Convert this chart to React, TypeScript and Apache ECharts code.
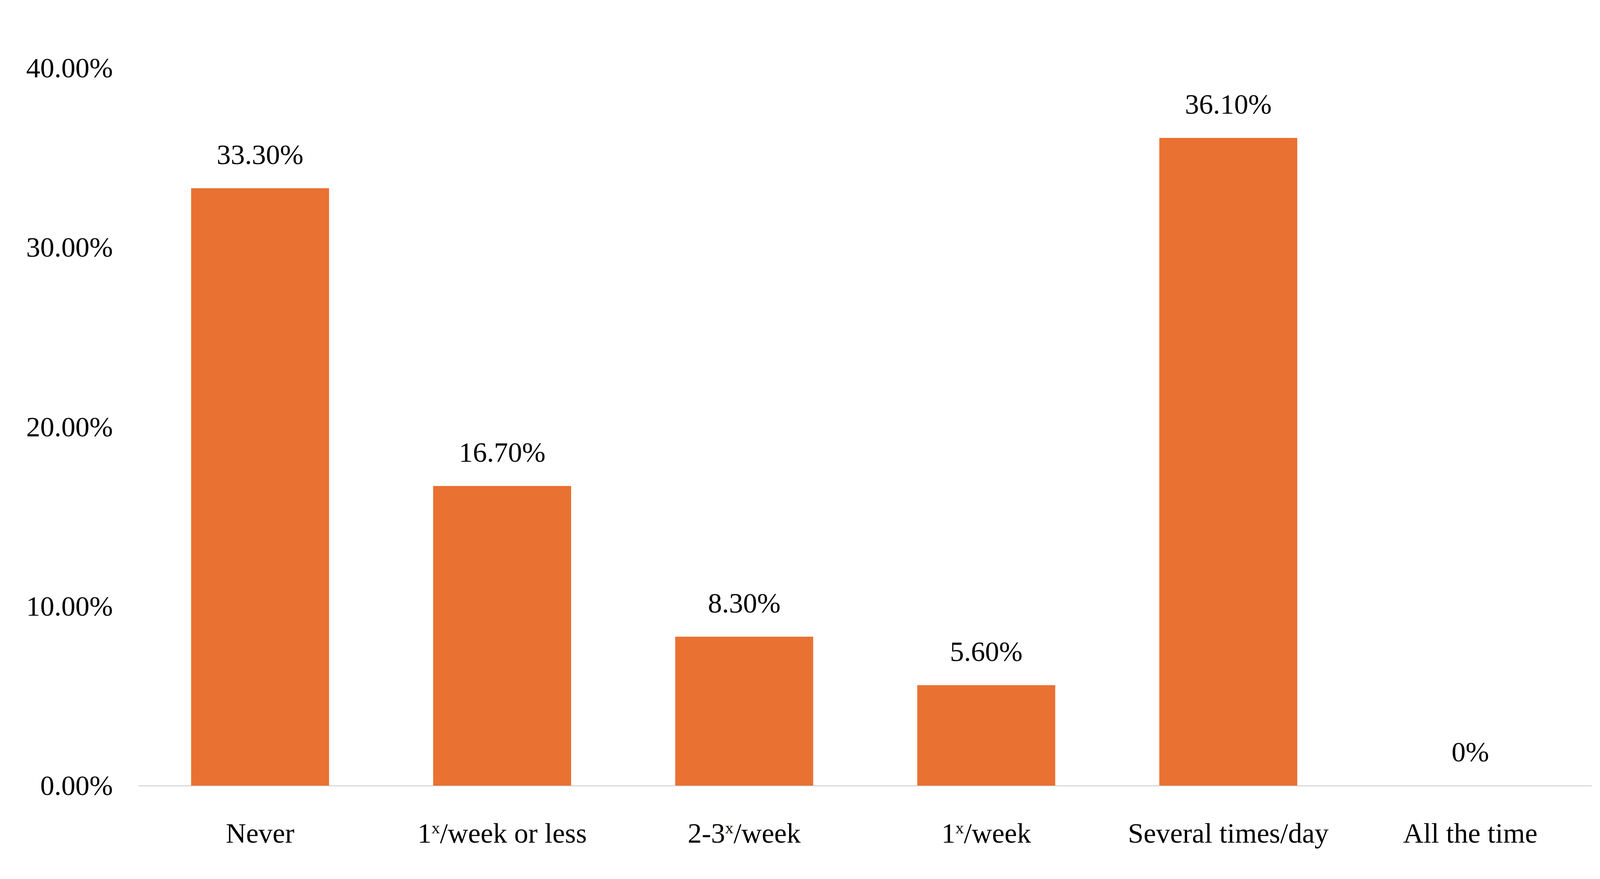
import React, { useEffect, useRef, useState } from "react";
import * as echarts from "echarts";

const categories = [
  "Never",
  "1ˣ/week or less",
  "2-3ˣ/week",
  "1ˣ/week",
  "Several times/day",
  "All the time",
];
const shares = [33.3, 16.7, 8.3, 5.6, 36.1, 0];
const yTicks = [0, 10, 20, 30, 40];

const FONT = "'Liberation Serif', 'Times New Roman', serif";
// size of the reference chart area (window minus the 8px body margin)
const REF_W = 5780;
const REF_H = 2234;

function App() {
  const chartRef = useRef<HTMLDivElement>(null);
  const [size] = useState(() => ({
    w: Math.max(window.innerWidth - 16, 400),
    h: Math.max(window.innerHeight - 16, 300),
  }));

  // eslint-disable-next-line consistent-return
  useEffect(() => {
    if (chartRef.current) {
      const sx = size.w / REF_W;
      const sy = size.h / REF_H;
      const fs = 102 * Math.min(sx, sy);
      const chart = echarts.init(chartRef.current, undefined, {
        renderer: "svg",
      });
      const options: echarts.EChartsOption = {
        animation: false,
        grid: {
          top: 166 * sy,
          right: 20 * sx,
          bottom: 231 * sy,
          left: 493 * sx,
        },
        xAxis: {
          type: "category",
          data: categories,
          axisLine: { lineStyle: { color: "#D9D9D9", width: 3 } },
          axisTick: { show: false },
          axisLabel: {
            interval: 0,
            margin: 122 * sy - fs / 2,
            color: "#000",
            fontFamily: FONT,
            fontSize: fs,
            lineHeight: fs,
            formatter: (v: string) => v.split("ˣ").join("{sup|x}"),
            rich: {
              sup: {
                fontFamily: FONT,
                fontSize: fs * 0.6,
                lineHeight: fs * 0.6,
                color: "#000",
                verticalAlign: "top",
              },
            },
          },
        },
        yAxis: {
          type: "value",
          min: yTicks[0],
          max: yTicks[yTicks.length - 1],
          interval: 10,
          splitLine: { show: false },
          axisLine: { show: false },
          axisTick: { show: false },
          axisLabel: {
            margin: 95 * sx,
            color: "#000",
            fontFamily: FONT,
            fontSize: fs,
            formatter: (v: number) => `${v.toFixed(2)}%`,
          },
        },
        series: [
          {
            type: "bar",
            data: shares,
            barWidth: "57%",
            itemStyle: { color: "#E97132" },
            label: {
              show: true,
              position: "top",
              distance: 86 * sy - fs / 2,
              color: "#000",
              fontFamily: FONT,
              fontSize: fs,
              formatter: (p: any) =>
                p.value === 0 ? "0%" : `${Number(p.value).toFixed(2)}%`,
            },
          },
        ],
      };
      chart.setOption(options);
      return () => {
        chart.dispose();
      };
    }
  }, [size]);

  return (
    <div ref={chartRef} style={{ width: `${size.w}px`, height: `${size.h}px` }} />
  );
}

export default App;
